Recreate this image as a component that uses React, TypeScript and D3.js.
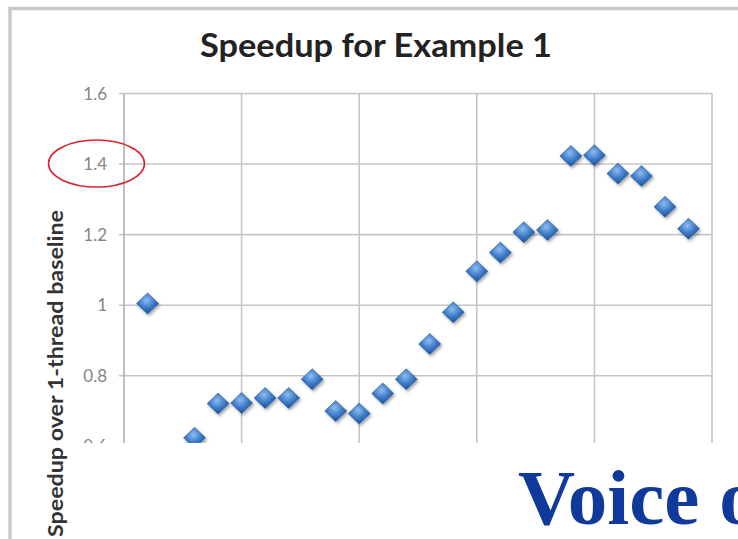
import React, { useEffect, useRef } from 'react';
import * as d3 from 'd3';

// threads (x) and speedup over the 1-thread run (y)
const threads = [1, 3, 4, 5, 6, 7, 8, 9, 10, 11, 12, 13, 14, 15, 16, 17, 18, 19, 20, 21, 22, 23, 24];
const speedup = [1.005, 0.624, 0.721, 0.723, 0.737, 0.737, 0.79, 0.70, 0.693, 0.75, 0.79, 0.89, 0.98,
    1.096, 1.149, 1.207, 1.213, 1.423, 1.425, 1.373, 1.366, 1.279, 1.217];

// only the part of the axis above the slide's text box is visible
const yTicks = [0.6, 0.8, 1, 1.2, 1.4, 1.6];
const xTicks = [0, 5, 10, 15, 20, 25];

const title = 'Speedup for Example 1';
const yTitle = 'Speedup over 1-thread baseline';
const footerText = 'Voice of';

const App = () => {
    const ref = useRef<SVGSVGElement>(null);

    useEffect(() => {
        const svg = d3.select(ref.current);
        svg.selectAll('*').remove();

        const width = 738;
        const height = 539;

        const xScale = d3.scaleLinear().domain([0, 25]).range([124, 712]);
        const yScale = d3.scaleLinear().domain([0, 1.6]).range([658, 93.5]);

        const defs = svg.append('defs');
        defs.append('clipPath').attr('id', 'plot-clip')
            .append('rect').attr('x', 0).attr('y', 0).attr('width', width).attr('height', 443);

        const grad = defs.append('radialGradient').attr('id', 'marker-grad')
            .attr('cx', '45%').attr('cy', '35%').attr('r', '65%');
        grad.append('stop').attr('offset', '0%').attr('stop-color', '#8dbcf0');
        grad.append('stop').attr('offset', '55%').attr('stop-color', '#3d7bc8');
        grad.append('stop').attr('offset', '100%').attr('stop-color', '#1c4f95');

        const shadow = defs.append('filter').attr('id', 'marker-shadow')
            .attr('x', '-50%').attr('y', '-50%').attr('width', '200%').attr('height', '200%');
        shadow.append('feDropShadow').attr('dx', 1.5).attr('dy', 2).attr('stdDeviation', 1.5)
            .attr('flood-color', '#000').attr('flood-opacity', 0.35);

        svg.append('rect').attr('width', width).attr('height', height).attr('fill', '#fff');

        // chart frame
        svg.append('path')
            .attr('d', `M10,${height + 5} V8.5 H${width + 5}`)
            .attr('fill', 'none')
            .attr('stroke', '#c9c9c9')
            .attr('stroke-width', 3.5);

        svg.append('text')
            .attr('x', 376)
            .attr('y', 57)
            .attr('text-anchor', 'middle')
            .attr('font-family', 'Lato, sans-serif')
            .attr('font-weight', 'bold')
            .attr('font-size', 33)
            .attr('fill', '#222')
            .attr('textLength', 352)
            .attr('lengthAdjust', 'spacingAndGlyphs')
            .text(title);

        svg.append('text')
            .attr('transform', 'translate(63, 373.5) rotate(-90)')
            .attr('text-anchor', 'middle')
            .attr('font-family', 'Lato, sans-serif')
            .attr('font-weight', 'bold')
            .attr('font-size', 21)
            .attr('fill', '#333')
            .attr('textLength', 327)
            .attr('lengthAdjust', 'spacingAndGlyphs')
            .text(yTitle);

        const plot = svg.append('g').attr('clip-path', 'url(#plot-clip)');

        plot.selectAll('.hgrid')
            .data(yTicks)
            .enter()
            .append('line')
            .attr('x1', 119)
            .attr('x2', xScale(25))
            .attr('y1', d => yScale(d))
            .attr('y2', d => yScale(d))
            .attr('stroke', '#c6c6c6')
            .attr('stroke-width', 1.6);

        plot.selectAll('.vgrid')
            .data(xTicks)
            .enter()
            .append('line')
            .attr('x1', d => xScale(d))
            .attr('x2', d => xScale(d))
            .attr('y1', yScale(1.6))
            .attr('y2', yScale(0))
            .attr('stroke', d => (d === 0 ? '#b0b0b0' : '#c6c6c6'))
            .attr('stroke-width', 1.6);

        plot.selectAll('.ylabel')
            .data(yTicks)
            .enter()
            .append('text')
            .attr('x', 107)
            .attr('y', d => yScale(d))
            .attr('dy', '0.36em')
            .attr('text-anchor', 'end')
            .attr('font-family', 'Lato, sans-serif')
            .attr('font-size', 17)
            .attr('fill', '#858585')
            .text(d => String(d));

        const diamond = 'M0,-10.5 L11,0 L0,10.5 L-11,0 Z';
        plot.selectAll('.pt')
            .data(threads)
            .enter()
            .append('path')
            .attr('d', diamond)
            .attr('transform', (d, i) => `translate(${xScale(d)}, ${yScale(speedup[i])})`)
            .attr('fill', 'url(#marker-grad)')
            .attr('stroke', '#2a5d9f')
            .attr('stroke-width', 0.6)
            .attr('filter', 'url(#marker-shadow)');

        // highlight round the 1.4 label
        svg.append('ellipse')
            .attr('cx', 96.5)
            .attr('cy', yScale(1.4) - 0.5)
            .attr('rx', 48)
            .attr('ry', 23.5)
            .attr('fill', 'none')
            .attr('stroke', '#d8262c')
            .attr('stroke-width', 1.6);

        svg.append('text')
            .attr('x', 518)
            .attr('y', 524)
            .attr('font-family', '"Liberation Serif", "Times New Roman", serif')
            .attr('font-weight', 'bold')
            .attr('font-size', 79)
            .attr('fill', '#0f3a9b')
            .text(footerText);
    }, []);

    return (
        <svg
            ref={ref}
            width={738}
            height={539}
            style={{ position: 'fixed', left: 0, top: 0 }}
        />
    );
};

export default App;
